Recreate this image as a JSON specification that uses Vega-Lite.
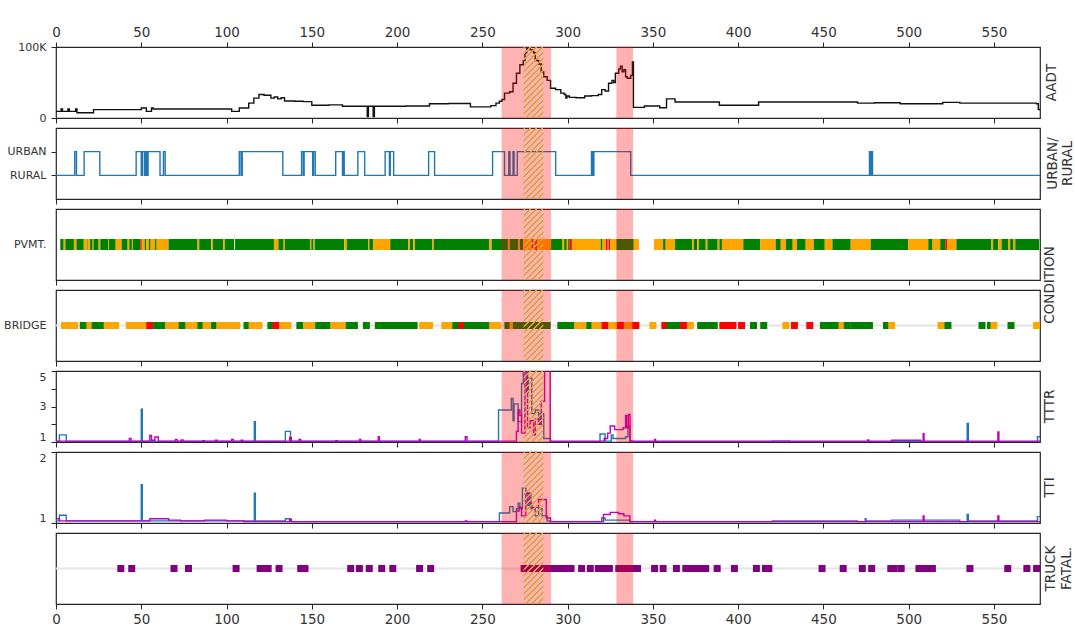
{
"$schema":"https://vega.github.io/schema/vega-lite/v6.json",
"padding":{"left":3,"top":24,"right":0,"bottom":8},
"bounds":"flush",
"spacing":10,
"resolve":{"scale":{"color":"independent"}},
"config":{
"font":"DejaVu Sans",
"view":{"stroke":"#262626","strokeWidth":1.2},
"axis":{"domain":false,"grid":false,"tickColor":"#262626","tickWidth":1,"tickSize":5,"labelColor":"#333333","labelFont":"DejaVu Sans"},
"axisX":{"labelFontSize":13.5,"labelPadding":3,"labelFlush":false},
"axisY":{"labelFontSize":11,"labelPadding":5},
"title":{"font":"DejaVu Sans","fontSize":13.5,"fontWeight":"normal","color":"#333333","orient":"right","angle":270,"baseline":"top","anchor":"middle","offset":-11}
},
"datasets":{
"spans":[{"start":261.3,"end":290.3},{"start":328.6,"end":338.4}],
"hatch":[{"start":274.2,"end":285.8}],
"aadt":[{"x":0,"v":9400},{"x":3,"v":12700},{"x":3.8,"v":9400},{"x":7,"v":12700},{"x":7.8,"v":9400},{"x":11.5,"v":12700},{"x":12.3,"v":7500},{"x":22,"v":11800},{"x":50,"v":14000},{"x":53,"v":9400},{"x":56,"v":14000},{"x":57,"v":12700},{"x":103,"v":9400},{"x":107.5,"v":14000},{"x":113,"v":21000},{"x":116,"v":28000},{"x":119,"v":33000},{"x":122,"v":32000},{"x":126,"v":28000},{"x":128,"v":29500},{"x":130,"v":27000},{"x":132,"v":28500},{"x":134,"v":24000},{"x":140,"v":23600},{"x":145,"v":23000},{"x":150,"v":18000},{"x":160,"v":18500},{"x":168,"v":16500},{"x":182.5,"v":2000},{"x":183.2,"v":16500},{"x":186,"v":2000},{"x":186.7,"v":16500},{"x":205,"v":17000},{"x":219,"v":20000},{"x":230,"v":20500},{"x":243,"v":15600},{"x":255,"v":17500},{"x":258,"v":21000},{"x":260,"v":23600},{"x":261.5,"v":26000},{"x":263,"v":35000},{"x":266,"v":37000},{"x":268,"v":49000},{"x":270,"v":63000},{"x":272,"v":75000},{"x":274,"v":81000},{"x":275,"v":92000},{"x":276,"v":98000},{"x":278,"v":96000},{"x":280,"v":92000},{"x":281,"v":81000},{"x":283,"v":76000},{"x":284.5,"v":65000},{"x":286,"v":58000},{"x":288,"v":53000},{"x":290,"v":42000},{"x":293,"v":40000},{"x":296,"v":35000},{"x":298,"v":33000},{"x":299,"v":28000},{"x":299.6,"v":31000},{"x":301,"v":29000},{"x":305,"v":28500},{"x":310,"v":31000},{"x":314,"v":31500},{"x":318,"v":33000},{"x":320,"v":40000},{"x":322,"v":38000},{"x":324,"v":49000},{"x":326,"v":53000},{"x":327,"v":50000},{"x":328,"v":63000},{"x":330,"v":69000},{"x":331,"v":73000},{"x":332,"v":65000},{"x":333,"v":68000},{"x":334,"v":58000},{"x":335,"v":56000},{"x":337,"v":60000},{"x":338,"v":79000},{"x":338.6,"v":15000},{"x":345,"v":17000},{"x":354,"v":14500},{"x":358,"v":27000},{"x":363,"v":22600},{"x":389,"v":18000},{"x":412,"v":22600},{"x":440,"v":22600},{"x":470,"v":21000},{"x":480,"v":21500},{"x":495,"v":20000},{"x":520,"v":22000},{"x":530,"v":21000},{"x":545,"v":21000},{"x":575,"v":20000},{"x":576,"v":12000},{"x":577,"v":12000}],
"ur":[{"x":0,"v":0},{"x":11,"v":1},{"x":12,"v":0},{"x":16.5,"v":1},{"x":25.7,"v":0},{"x":47,"v":1},{"x":50,"v":0},{"x":50.8,"v":1},{"x":52,"v":0},{"x":52.7,"v":1},{"x":53.5,"v":0},{"x":54,"v":1},{"x":61,"v":0},{"x":63,"v":1},{"x":64,"v":0},{"x":107.5,"v":1},{"x":108.5,"v":0},{"x":109.2,"v":1},{"x":133,"v":0},{"x":144,"v":1},{"x":145,"v":0},{"x":145.5,"v":1},{"x":150.5,"v":0},{"x":151,"v":1},{"x":152,"v":0},{"x":164,"v":1},{"x":168,"v":0},{"x":168.5,"v":1},{"x":169,"v":0},{"x":177,"v":1},{"x":181,"v":0},{"x":193,"v":1},{"x":195.5,"v":0},{"x":196,"v":1},{"x":198,"v":0},{"x":218.5,"v":1},{"x":222,"v":0},{"x":256,"v":1},{"x":263,"v":0},{"x":265.5,"v":1},{"x":266.2,"v":0},{"x":268,"v":1},{"x":268.6,"v":0},{"x":270.5,"v":1},{"x":293,"v":0},{"x":314,"v":1},{"x":314.6,"v":0},{"x":315.4,"v":1},{"x":337,"v":0},{"x":477,"v":1},{"x":477.5,"v":0},{"x":478,"v":1},{"x":478.8,"v":0},{"x":577,"v":0}],
"pvmt":[{"a":2.5,"b":4.5,"c":"G"},{"a":4.5,"b":5.5,"c":"O"},{"a":5.5,"b":10.5,"c":"G"},{"a":10.5,"b":12,"c":"O"},{"a":12,"b":16.3,"c":"G"},{"a":16.3,"b":18.5,"c":"O"},{"a":18.5,"b":19,"c":"G"},{"a":19,"b":20,"c":"O"},{"a":20,"b":21.5,"c":"G"},{"a":21.5,"b":22,"c":"O"},{"a":22,"b":25,"c":"G"},{"a":25,"b":26,"c":"O"},{"a":26,"b":30.5,"c":"G"},{"a":30.5,"b":31,"c":"O"},{"a":31,"b":35,"c":"G"},{"a":35,"b":38.5,"c":"O"},{"a":38.5,"b":42,"c":"G"},{"a":42,"b":43,"c":"O"},{"a":43,"b":44.5,"c":"G"},{"a":44.5,"b":45,"c":"O"},{"a":45,"b":49.5,"c":"G"},{"a":49.5,"b":50.3,"c":"R"},{"a":50.3,"b":52,"c":"O"},{"a":52,"b":53,"c":"G"},{"a":53,"b":54.5,"c":"O"},{"a":54.5,"b":55.5,"c":"G"},{"a":55.5,"b":58,"c":"O"},{"a":58,"b":59,"c":"G"},{"a":59,"b":66,"c":"O"},{"a":66,"b":83,"c":"G"},{"a":83,"b":84,"c":"O"},{"a":84,"b":91,"c":"G"},{"a":91,"b":92,"c":"O"},{"a":92,"b":98,"c":"G"},{"a":98,"b":99,"c":"O"},{"a":99,"b":104.5,"c":"G"},{"a":105,"b":127.8,"c":"G"},{"a":127.8,"b":130.4,"c":"O"},{"a":130.4,"b":133.5,"c":"G"},{"a":133.5,"b":134.2,"c":"O"},{"a":134.2,"b":149,"c":"G"},{"a":149,"b":149.7,"c":"O"},{"a":149.7,"b":151,"c":"G"},{"a":151,"b":151.7,"c":"O"},{"a":151.7,"b":169,"c":"G"},{"a":169,"b":170.5,"c":"O"},{"a":170.5,"b":183,"c":"G"},{"a":183,"b":183.7,"c":"O"},{"a":183.7,"b":186,"c":"G"},{"a":186,"b":196,"c":"O"},{"a":196,"b":206.5,"c":"G"},{"a":206.5,"b":207.5,"c":"O"},{"a":207.5,"b":209.5,"c":"G"},{"a":209.5,"b":210.5,"c":"O"},{"a":210.5,"b":220.5,"c":"G"},{"a":220.5,"b":221.5,"c":"O"},{"a":221.5,"b":254,"c":"G"},{"a":254,"b":255.5,"c":"O"},{"a":255.5,"b":265,"c":"G"},{"a":265,"b":266,"c":"O"},{"a":266,"b":271,"c":"G"},{"a":271,"b":272,"c":"O"},{"a":272,"b":274,"c":"G"},{"a":274,"b":279,"c":"O"},{"a":279,"b":280,"c":"R"},{"a":280,"b":281,"c":"O"},{"a":281,"b":282,"c":"R"},{"a":282,"b":290.3,"c":"O"},{"a":290.3,"b":297,"c":"G"},{"a":297,"b":298,"c":"O"},{"a":298,"b":299.5,"c":"G"},{"a":299.5,"b":300.3,"c":"O"},{"a":300.3,"b":301,"c":"G"},{"a":301,"b":302.5,"c":"R"},{"a":302.5,"b":319.4,"c":"O"},{"a":319.4,"b":320.5,"c":"G"},{"a":320.5,"b":322.5,"c":"O"},{"a":322.5,"b":323.5,"c":"R"},{"a":323.5,"b":324,"c":"O"},{"a":324,"b":325,"c":"R"},{"a":325,"b":328.6,"c":"O"},{"a":328.6,"b":338.8,"c":"G"},{"a":338.8,"b":341.8,"c":"O"},{"a":350.6,"b":356,"c":"O"},{"a":356,"b":357.5,"c":"G"},{"a":357.5,"b":363,"c":"O"},{"a":363,"b":373,"c":"G"},{"a":373,"b":374,"c":"O"},{"a":374,"b":376,"c":"G"},{"a":376,"b":377,"c":"O"},{"a":377,"b":381,"c":"G"},{"a":381,"b":382,"c":"O"},{"a":382,"b":388,"c":"G"},{"a":388,"b":389,"c":"O"},{"a":389,"b":390.5,"c":"G"},{"a":390.5,"b":403,"c":"O"},{"a":403,"b":413,"c":"G"},{"a":413,"b":422,"c":"O"},{"a":422,"b":425,"c":"G"},{"a":425,"b":428,"c":"O"},{"a":428,"b":432,"c":"G"},{"a":432,"b":434.5,"c":"O"},{"a":434.5,"b":439.6,"c":"G"},{"a":439.6,"b":444.3,"c":"O"},{"a":444.3,"b":450.8,"c":"G"},{"a":450.8,"b":455.3,"c":"O"},{"a":455.3,"b":466,"c":"G"},{"a":466,"b":477.7,"c":"O"},{"a":477.7,"b":499.7,"c":"G"},{"a":499.7,"b":511.5,"c":"O"},{"a":511.5,"b":514,"c":"G"},{"a":514,"b":518.5,"c":"O"},{"a":518.5,"b":521.5,"c":"G"},{"a":521.5,"b":522.5,"c":"R"},{"a":522.5,"b":528,"c":"O"},{"a":528,"b":548.5,"c":"G"},{"a":548.5,"b":549.5,"c":"O"},{"a":549.5,"b":552.5,"c":"G"},{"a":552.5,"b":554.5,"c":"O"},{"a":554.5,"b":558.5,"c":"G"},{"a":558.5,"b":559.5,"c":"O"},{"a":559.5,"b":561.5,"c":"G"},{"a":561.5,"b":562.5,"c":"O"},{"a":562.5,"b":576.5,"c":"G"}],
"bridge":[{"x":5,"c":"O"},{"x":8,"c":"O"},{"x":11,"c":"O"},{"x":16,"c":"G"},{"x":20,"c":"O"},{"x":23,"c":"G"},{"x":26,"c":"G"},{"x":28,"c":"G"},{"x":30,"c":"O"},{"x":33,"c":"O"},{"x":35,"c":"O"},{"x":43,"c":"O"},{"x":46,"c":"O"},{"x":49,"c":"O"},{"x":52,"c":"O"},{"x":55,"c":"R"},{"x":59,"c":"G"},{"x":62,"c":"G"},{"x":66,"c":"O"},{"x":68,"c":"O"},{"x":71,"c":"O"},{"x":74,"c":"G"},{"x":78,"c":"O"},{"x":82,"c":"O"},{"x":85,"c":"G"},{"x":88,"c":"O"},{"x":90,"c":"O"},{"x":93,"c":"G"},{"x":96,"c":"O"},{"x":97,"c":"O"},{"x":100,"c":"O"},{"x":103,"c":"O"},{"x":106,"c":"O"},{"x":112,"c":"G"},{"x":115,"c":"O"},{"x":119,"c":"O"},{"x":126,"c":"G"},{"x":129,"c":"R"},{"x":133,"c":"O"},{"x":136,"c":"O"},{"x":143,"c":"G"},{"x":147,"c":"O"},{"x":150,"c":"O"},{"x":154,"c":"G"},{"x":156,"c":"G"},{"x":159,"c":"G"},{"x":163,"c":"O"},{"x":166,"c":"O"},{"x":168,"c":"O"},{"x":172,"c":"G"},{"x":175,"c":"G"},{"x":182,"c":"G"},{"x":189,"c":"G"},{"x":192,"c":"G"},{"x":195,"c":"G"},{"x":198,"c":"G"},{"x":201,"c":"G"},{"x":204,"c":"G"},{"x":207,"c":"G"},{"x":210,"c":"G"},{"x":215,"c":"O"},{"x":219,"c":"O"},{"x":228,"c":"O"},{"x":231,"c":"O"},{"x":233,"c":"O"},{"x":234.5,"c":"G"},{"x":238,"c":"R"},{"x":241,"c":"G"},{"x":244,"c":"G"},{"x":247,"c":"G"},{"x":250,"c":"G"},{"x":253,"c":"G"},{"x":256,"c":"O"},{"x":259,"c":"O"},{"x":265,"c":"G"},{"x":268,"c":"O"},{"x":270,"c":"G"},{"x":273,"c":"G"},{"x":276,"c":"G"},{"x":279,"c":"G"},{"x":282,"c":"G"},{"x":285,"c":"G"},{"x":288,"c":"G"},{"x":296,"c":"G"},{"x":299,"c":"G"},{"x":302,"c":"G"},{"x":306,"c":"O"},{"x":309,"c":"O"},{"x":313,"c":"G"},{"x":316,"c":"O"},{"x":319,"c":"O"},{"x":322,"c":"R"},{"x":326,"c":"O"},{"x":329,"c":"O"},{"x":331,"c":"R"},{"x":335,"c":"O"},{"x":337,"c":"O"},{"x":340,"c":"R"},{"x":350,"c":"O"},{"x":357,"c":"R"},{"x":360,"c":"G"},{"x":363,"c":"G"},{"x":366,"c":"G"},{"x":368,"c":"R"},{"x":371,"c":"R"},{"x":372,"c":"O"},{"x":378,"c":"G"},{"x":381,"c":"G"},{"x":385,"c":"G"},{"x":386,"c":"G"},{"x":391,"c":"R"},{"x":394,"c":"R"},{"x":397,"c":"R"},{"x":402,"c":"R"},{"x":409,"c":"G"},{"x":415,"c":"G"},{"x":428,"c":"O"},{"x":433,"c":"R"},{"x":442,"c":"R"},{"x":450,"c":"G"},{"x":453,"c":"G"},{"x":457,"c":"G"},{"x":461,"c":"O"},{"x":464,"c":"G"},{"x":468,"c":"G"},{"x":471,"c":"G"},{"x":474,"c":"G"},{"x":477,"c":"G"},{"x":487,"c":"G"},{"x":490,"c":"O"},{"x":519,"c":"O"},{"x":523,"c":"G"},{"x":543,"c":"G"},{"x":548,"c":"G"},{"x":550,"c":"O"},{"x":560,"c":"G"},{"x":575,"c":"O"}],
"truck":[{"x":38},{"x":44.4},{"x":69.2},{"x":77.7},{"x":105.6},{"x":119.7},{"x":121.1},{"x":124.4},{"x":130.8},{"x":143.5},{"x":146},{"x":172.8},{"x":177.9},{"x":183.7},{"x":191},{"x":197.5},{"x":213.2},{"x":219.7},{"x":274.5},{"x":276},{"x":277.5},{"x":279},{"x":280.5},{"x":282},{"x":283.5},{"x":285},{"x":286.5},{"x":288},{"x":289.5},{"x":291},{"x":293},{"x":295},{"x":297},{"x":300},{"x":302},{"x":308.2},{"x":313.3},{"x":318},{"x":320},{"x":322},{"x":324.5},{"x":330},{"x":332},{"x":334},{"x":338},{"x":341},{"x":351},{"x":356},{"x":363.8},{"x":369.3},{"x":373},{"x":375},{"x":377},{"x":379},{"x":381},{"x":387.7},{"x":397.8},{"x":410.7},{"x":416},{"x":418},{"x":449.2},{"x":461.6},{"x":472.8},{"x":478.3},{"x":489.5},{"x":491.5},{"x":495.6},{"x":506},{"x":508},{"x":510},{"x":513.9},{"x":535.9},{"x":558.1},{"x":569.3},{"x":575}],
"tttr":[{"x":0,"v":1.03,"s":"b"},{"x":2,"v":1.4,"s":"b"},{"x":6,"v":1.03,"s":"b"},{"x":50,"v":2.85,"s":"b"},{"x":50.6,"v":1.03,"s":"b"},{"x":116.3,"v":2.15,"s":"b"},{"x":116.9,"v":1.03,"s":"b"},{"x":134.5,"v":1.6,"s":"b"},{"x":137.5,"v":1.03,"s":"b"},{"x":259.5,"v":2.8,"s":"b"},{"x":267,"v":3.45,"s":"b"},{"x":268,"v":2.2,"s":"b"},{"x":268.6,"v":3.15,"s":"b"},{"x":271,"v":2.15,"s":"b"},{"x":273,"v":4.3,"s":"b"},{"x":274,"v":5.5,"s":"b"},{"x":276,"v":3.8,"s":"b"},{"x":277,"v":4.6,"s":"b"},{"x":279,"v":2.6,"s":"b"},{"x":281,"v":2.8,"s":"b"},{"x":283,"v":2.0,"s":"b"},{"x":284,"v":2.6,"s":"b"},{"x":286,"v":1.2,"s":"b"},{"x":290,"v":1.02,"s":"b"},{"x":319,"v":1.45,"s":"b"},{"x":322,"v":1.05,"s":"b"},{"x":325.6,"v":1.4,"s":"b"},{"x":326.6,"v":1.2,"s":"b"},{"x":334,"v":1.3,"s":"b"},{"x":335.4,"v":1.9,"s":"b"},{"x":336.5,"v":1.05,"s":"b"},{"x":338,"v":1.02,"s":"b"},{"x":420,"v":1.05,"s":"b"},{"x":430,"v":1.02,"s":"b"},{"x":534.3,"v":2.05,"s":"b"},{"x":535,"v":1.02,"s":"b"},{"x":575.5,"v":1.3,"s":"b"},{"x":577,"v":1.3,"s":"b"},
{"x":0,"v":1.05,"s":"m"},{"x":43,"v":1.2,"s":"m"},{"x":44,"v":1.05,"s":"m"},{"x":55,"v":1.37,"s":"m"},{"x":56,"v":1.1,"s":"m"},{"x":58,"v":1.28,"s":"m"},{"x":60,"v":1.05,"s":"m"},{"x":70,"v":1.15,"s":"m"},{"x":71,"v":1.05,"s":"m"},{"x":73.5,"v":1.12,"s":"m"},{"x":74.5,"v":1.05,"s":"m"},{"x":86,"v":1.08,"s":"m"},{"x":87,"v":1.05,"s":"m"},{"x":93.5,"v":1.1,"s":"m"},{"x":94.5,"v":1.05,"s":"m"},{"x":103,"v":1.15,"s":"m"},{"x":104,"v":1.05,"s":"m"},{"x":108.5,"v":1.1,"s":"m"},{"x":109.5,"v":1.05,"s":"m"},{"x":137,"v":1.25,"s":"m"},{"x":138,"v":1.05,"s":"m"},{"x":142.5,"v":1.15,"s":"m"},{"x":143.5,"v":1.05,"s":"m"},{"x":164,"v":1.08,"s":"m"},{"x":165,"v":1.05,"s":"m"},{"x":178,"v":1.15,"s":"m"},{"x":178.7,"v":1.05,"s":"m"},{"x":189,"v":1.3,"s":"m"},{"x":189.6,"v":1.05,"s":"m"},{"x":213,"v":1.15,"s":"m"},{"x":213.6,"v":1.05,"s":"m"},{"x":240,"v":1.3,"s":"m"},{"x":241,"v":1.05,"s":"m"},{"x":270,"v":1.6,"s":"m"},{"x":271,"v":2.8,"s":"m"},{"x":272,"v":2.5,"s":"m"},{"x":273,"v":1.5,"s":"m"},{"x":275,"v":5.5,"s":"m"},{"x":276.5,"v":1.8,"s":"m"},{"x":278,"v":2.2,"s":"m"},{"x":280,"v":1.4,"s":"m"},{"x":281,"v":2.3,"s":"m"},{"x":283,"v":2.0,"s":"m"},{"x":284.5,"v":3.3,"s":"m"},{"x":286.5,"v":5.5,"s":"m"},{"x":289.8,"v":1.05,"s":"m"},{"x":321.5,"v":1.2,"s":"m"},{"x":323.5,"v":1.5,"s":"m"},{"x":325,"v":1.9,"s":"m"},{"x":327.6,"v":1.7,"s":"m"},{"x":332.5,"v":1.8,"s":"m"},{"x":334,"v":2.5,"s":"m"},{"x":334.6,"v":1.8,"s":"m"},{"x":335.6,"v":2.55,"s":"m"},{"x":336.6,"v":1.05,"s":"m"},{"x":351,"v":1.15,"s":"m"},{"x":351.6,"v":1.05,"s":"m"},{"x":476,"v":1.12,"s":"m"},{"x":476.6,"v":1.05,"s":"m"},{"x":490,"v":1.1,"s":"m"},{"x":507,"v":1.05,"s":"m"},{"x":508.5,"v":1.47,"s":"m"},{"x":509,"v":1.05,"s":"m"},{"x":552.3,"v":1.56,"s":"m"},{"x":552.9,"v":1.05,"s":"m"},{"x":577,"v":1.05,"s":"m"}],
"tti":[{"x":0,"v":1.03,"s":"b"},{"x":2,"v":1.11,"s":"b"},{"x":6,"v":1.03,"s":"b"},{"x":50,"v":1.54,"s":"b"},{"x":50.6,"v":1.03,"s":"b"},{"x":116.3,"v":1.42,"s":"b"},{"x":116.9,"v":1.03,"s":"b"},{"x":134.5,"v":1.06,"s":"b"},{"x":137.5,"v":1.02,"s":"b"},{"x":260,"v":1.14,"s":"b"},{"x":266,"v":1.23,"s":"b"},{"x":268,"v":1.16,"s":"b"},{"x":270,"v":1.2,"s":"b"},{"x":271,"v":1.28,"s":"b"},{"x":272,"v":1.2,"s":"b"},{"x":273.5,"v":1.49,"s":"b"},{"x":275.5,"v":1.42,"s":"b"},{"x":276.5,"v":1.25,"s":"b"},{"x":277.5,"v":1.42,"s":"b"},{"x":278.5,"v":1.2,"s":"b"},{"x":281,"v":1.1,"s":"b"},{"x":283,"v":1.2,"s":"b"},{"x":285,"v":1.1,"s":"b"},{"x":288,"v":1.03,"s":"b"},{"x":290,"v":1.02,"s":"b"},{"x":320,"v":1.07,"s":"b"},{"x":322,"v":1.04,"s":"b"},{"x":336.5,"v":1.02,"s":"b"},{"x":420,"v":1.03,"s":"b"},{"x":470,"v":1.02,"s":"b"},{"x":474.5,"v":1.06,"s":"b"},{"x":475,"v":1.03,"s":"b"},{"x":490,"v":1.04,"s":"b"},{"x":530,"v":1.02,"s":"b"},{"x":534.3,"v":1.12,"s":"b"},{"x":535,"v":1.03,"s":"b"},{"x":575.5,"v":1.09,"s":"b"},{"x":577,"v":1.09,"s":"b"},
{"x":0,"v":1.06,"s":"m"},{"x":2,"v":1.03,"s":"m"},{"x":55,"v":1.06,"s":"m"},{"x":66,"v":1.04,"s":"m"},{"x":73,"v":1.03,"s":"m"},{"x":87,"v":1.04,"s":"m"},{"x":100,"v":1.03,"s":"m"},{"x":110,"v":1.02,"s":"m"},{"x":137,"v":1.05,"s":"m"},{"x":138,"v":1.02,"s":"m"},{"x":240,"v":1.03,"s":"m"},{"x":241,"v":1.02,"s":"m"},{"x":270,"v":1.17,"s":"m"},{"x":271.5,"v":1.22,"s":"m"},{"x":273,"v":1.1,"s":"m"},{"x":275.5,"v":1.42,"s":"m"},{"x":277.5,"v":1.28,"s":"m"},{"x":279,"v":1.22,"s":"m"},{"x":283,"v":1.33,"s":"m"},{"x":287.5,"v":1.07,"s":"m"},{"x":290,"v":1.02,"s":"m"},{"x":321,"v":1.12,"s":"m"},{"x":325,"v":1.15,"s":"m"},{"x":330,"v":1.13,"s":"m"},{"x":333,"v":1.1,"s":"m"},{"x":336.5,"v":1.02,"s":"m"},{"x":351,"v":1.04,"s":"m"},{"x":351.6,"v":1.02,"s":"m"},{"x":508.5,"v":1.1,"s":"m"},{"x":509,"v":1.02,"s":"m"},{"x":552.3,"v":1.1,"s":"m"},{"x":552.9,"v":1.02,"s":"m"},{"x":577,"v":1.02,"s":"m"}]
},
"vconcat":[
{"width":984,"height":71,
"title":{"text":"AADT"},
"resolve":{"axis":{"x":"independent"}},
"layer":[
{"data":{"name":"aadt"},"mark":{"type":"line","interpolate":"step-after","color":"#111111","strokeWidth":1.4},
"encoding":{"x":{"field":"x","type":"quantitative","scale":{"domain":[0,577],"nice":false,"zero":false},"axis":{"orient":"top","values":[0,50,100,150,200,250,300,350,400,450,500,550],"title":null}},
"y":{"field":"v","type":"quantitative","scale":{"domain":[0,100000],"nice":false},"axis":{"values":[0,100000],"labelExpr":"datum.value==0?'0':'100K'","title":null}}}},
{"data":{"name":"spans"},"mark":{"type":"rect","color":"#ff0000","opacity":0.3},
"encoding":{"x":{"field":"start","type":"quantitative","scale":{"domain":[0,577],"nice":false,"zero":false},"axis":{"orient":"bottom","values":[0,50,100,150,200,250,300,350,400,450,500,550],"labels":false,"title":null}},"x2":{"field":"end"}}},
{"data":{"name":"hatch"},"mark":{"type":"rect","strokeWidth":0,"fill":{"gradient":"linear","x1":0,"y1":0,"x2":1,"y2":3.586,"stops":[{"offset":0,"color":"#d4a537"},{"offset":0.0055,"color":"#d4a537"},{"offset":0.0055,"color":"rgba(212,165,55,0)"},{"offset":0.0219,"color":"rgba(212,165,55,0)"},{"offset":0.0219,"color":"#d4a537"},{"offset":0.0274,"color":"#d4a537"},{"offset":0.0274,"color":"rgba(212,165,55,0)"},{"offset":0.0438,"color":"rgba(212,165,55,0)"},{"offset":0.0438,"color":"#d4a537"},{"offset":0.0493,"color":"#d4a537"},{"offset":0.0493,"color":"rgba(212,165,55,0)"},{"offset":0.0657,"color":"rgba(212,165,55,0)"},{"offset":0.0657,"color":"#d4a537"},{"offset":0.0712,"color":"#d4a537"},{"offset":0.0712,"color":"rgba(212,165,55,0)"},{"offset":0.0876,"color":"rgba(212,165,55,0)"},{"offset":0.0876,"color":"#d4a537"},{"offset":0.0931,"color":"#d4a537"},{"offset":0.0931,"color":"rgba(212,165,55,0)"},{"offset":0.1095,"color":"rgba(212,165,55,0)"},{"offset":0.1095,"color":"#d4a537"},{"offset":0.115,"color":"#d4a537"},{"offset":0.115,"color":"rgba(212,165,55,0)"},{"offset":0.1314,"color":"rgba(212,165,55,0)"},{"offset":0.1314,"color":"#d4a537"},{"offset":0.1369,"color":"#d4a537"},{"offset":0.1369,"color":"rgba(212,165,55,0)"},{"offset":0.1533,"color":"rgba(212,165,55,0)"},{"offset":0.1533,"color":"#d4a537"},{"offset":0.1588,"color":"#d4a537"},{"offset":0.1588,"color":"rgba(212,165,55,0)"},{"offset":0.1752,"color":"rgba(212,165,55,0)"},{"offset":0.1752,"color":"#d4a537"},{"offset":0.1807,"color":"#d4a537"},{"offset":0.1807,"color":"rgba(212,165,55,0)"},{"offset":0.1971,"color":"rgba(212,165,55,0)"},{"offset":0.1971,"color":"#d4a537"},{"offset":0.2026,"color":"#d4a537"},{"offset":0.2026,"color":"rgba(212,165,55,0)"},{"offset":0.219,"color":"rgba(212,165,55,0)"},{"offset":0.219,"color":"#d4a537"},{"offset":0.2245,"color":"#d4a537"},{"offset":0.2245,"color":"rgba(212,165,55,0)"},{"offset":0.2409,"color":"rgba(212,165,55,0)"},{"offset":0.2409,"color":"#d4a537"},{"offset":0.2464,"color":"#d4a537"},{"offset":0.2464,"color":"rgba(212,165,55,0)"},{"offset":0.2628,"color":"rgba(212,165,55,0)"},{"offset":0.2628,"color":"#d4a537"},{"offset":0.2683,"color":"#d4a537"},{"offset":0.2683,"color":"rgba(212,165,55,0)"},{"offset":0.2847,"color":"rgba(212,165,55,0)"},{"offset":0.2847,"color":"#d4a537"},{"offset":0.2902,"color":"#d4a537"},{"offset":0.2902,"color":"rgba(212,165,55,0)"},{"offset":0.3066,"color":"rgba(212,165,55,0)"},{"offset":0.3066,"color":"#d4a537"},{"offset":0.3121,"color":"#d4a537"},{"offset":0.3121,"color":"rgba(212,165,55,0)"},{"offset":0.3285,"color":"rgba(212,165,55,0)"},{"offset":0.3285,"color":"#d4a537"},{"offset":0.334,"color":"#d4a537"},{"offset":0.334,"color":"rgba(212,165,55,0)"},{"offset":1,"color":"rgba(212,165,55,0)"}]}},
"encoding":{"x":{"field":"start","type":"quantitative","scale":{"domain":[0,577],"nice":false,"zero":false},"axis":null},"x2":{"field":"end"}}}
]},
{"width":984,"height":71,
"title":{"text":["URBAN/","RURAL"],"offset":-26},
"layer":[
{"data":{"name":"ur"},"mark":{"type":"line","interpolate":"step-after","color":"#1f77b4","strokeWidth":1.4},
"encoding":{"x":{"field":"x","type":"quantitative","scale":{"domain":[0,577],"nice":false,"zero":false},"axis":{"orient":"bottom","values":[0,50,100,150,200,250,300,350,400,450,500,550],"labels":false,"title":null}},
"y":{"field":"v","type":"quantitative","scale":{"domain":[-1,2],"nice":false,"zero":false},"axis":{"values":[0,1],"labelExpr":"datum.value==1?'URBAN':'RURAL'","title":null}}}},
{"data":{"name":"spans"},"mark":{"type":"rect","color":"#ff0000","opacity":0.3},
"encoding":{"x":{"field":"start","type":"quantitative","scale":{"domain":[0,577],"nice":false,"zero":false},"axis":{"orient":"bottom","values":[0,50,100,150,200,250,300,350,400,450,500,550],"labels":false,"title":null}},"x2":{"field":"end"}}},
{"data":{"name":"hatch"},"mark":{"type":"rect","strokeWidth":0,"fill":{"gradient":"linear","x1":0,"y1":0,"x2":1,"y2":3.586,"stops":[{"offset":0,"color":"#d4a537"},{"offset":0.0055,"color":"#d4a537"},{"offset":0.0055,"color":"rgba(212,165,55,0)"},{"offset":0.0219,"color":"rgba(212,165,55,0)"},{"offset":0.0219,"color":"#d4a537"},{"offset":0.0274,"color":"#d4a537"},{"offset":0.0274,"color":"rgba(212,165,55,0)"},{"offset":0.0438,"color":"rgba(212,165,55,0)"},{"offset":0.0438,"color":"#d4a537"},{"offset":0.0493,"color":"#d4a537"},{"offset":0.0493,"color":"rgba(212,165,55,0)"},{"offset":0.0657,"color":"rgba(212,165,55,0)"},{"offset":0.0657,"color":"#d4a537"},{"offset":0.0712,"color":"#d4a537"},{"offset":0.0712,"color":"rgba(212,165,55,0)"},{"offset":0.0876,"color":"rgba(212,165,55,0)"},{"offset":0.0876,"color":"#d4a537"},{"offset":0.0931,"color":"#d4a537"},{"offset":0.0931,"color":"rgba(212,165,55,0)"},{"offset":0.1095,"color":"rgba(212,165,55,0)"},{"offset":0.1095,"color":"#d4a537"},{"offset":0.115,"color":"#d4a537"},{"offset":0.115,"color":"rgba(212,165,55,0)"},{"offset":0.1314,"color":"rgba(212,165,55,0)"},{"offset":0.1314,"color":"#d4a537"},{"offset":0.1369,"color":"#d4a537"},{"offset":0.1369,"color":"rgba(212,165,55,0)"},{"offset":0.1533,"color":"rgba(212,165,55,0)"},{"offset":0.1533,"color":"#d4a537"},{"offset":0.1588,"color":"#d4a537"},{"offset":0.1588,"color":"rgba(212,165,55,0)"},{"offset":0.1752,"color":"rgba(212,165,55,0)"},{"offset":0.1752,"color":"#d4a537"},{"offset":0.1807,"color":"#d4a537"},{"offset":0.1807,"color":"rgba(212,165,55,0)"},{"offset":0.1971,"color":"rgba(212,165,55,0)"},{"offset":0.1971,"color":"#d4a537"},{"offset":0.2026,"color":"#d4a537"},{"offset":0.2026,"color":"rgba(212,165,55,0)"},{"offset":0.219,"color":"rgba(212,165,55,0)"},{"offset":0.219,"color":"#d4a537"},{"offset":0.2245,"color":"#d4a537"},{"offset":0.2245,"color":"rgba(212,165,55,0)"},{"offset":0.2409,"color":"rgba(212,165,55,0)"},{"offset":0.2409,"color":"#d4a537"},{"offset":0.2464,"color":"#d4a537"},{"offset":0.2464,"color":"rgba(212,165,55,0)"},{"offset":0.2628,"color":"rgba(212,165,55,0)"},{"offset":0.2628,"color":"#d4a537"},{"offset":0.2683,"color":"#d4a537"},{"offset":0.2683,"color":"rgba(212,165,55,0)"},{"offset":0.2847,"color":"rgba(212,165,55,0)"},{"offset":0.2847,"color":"#d4a537"},{"offset":0.2902,"color":"#d4a537"},{"offset":0.2902,"color":"rgba(212,165,55,0)"},{"offset":0.3066,"color":"rgba(212,165,55,0)"},{"offset":0.3066,"color":"#d4a537"},{"offset":0.3121,"color":"#d4a537"},{"offset":0.3121,"color":"rgba(212,165,55,0)"},{"offset":0.3285,"color":"rgba(212,165,55,0)"},{"offset":0.3285,"color":"#d4a537"},{"offset":0.334,"color":"#d4a537"},{"offset":0.334,"color":"rgba(212,165,55,0)"},{"offset":1,"color":"rgba(212,165,55,0)"}]}},
"encoding":{"x":{"field":"start","type":"quantitative","scale":{"domain":[0,577],"nice":false,"zero":false},"axis":{"orient":"bottom","values":[0,50,100,150,200,250,300,350,400,450,500,550],"labels":false,"title":null}},"x2":{"field":"end"}}}
]},
{"width":984,"height":71,
"title":{"text":"CONDITION","dx":-40.5},
"layer":[
{"data":{"name":"pvmt"},"mark":{"type":"bar","size":11},
"encoding":{"x":{"field":"a","type":"quantitative","scale":{"domain":[0,577],"nice":false,"zero":false},"axis":{"orient":"bottom","values":[0,50,100,150,200,250,300,350,400,450,500,550],"labels":false,"title":null}},"x2":{"field":"b"},
"y":{"datum":"PVMT.","type":"nominal","axis":{"title":null,"tickOpacity":0}},
"color":{"field":"c","type":"nominal","scale":{"domain":["G","O","R"],"range":["#008000","#ffa500","#ff0000"]},"legend":null}}},
{"data":{"name":"spans"},"mark":{"type":"rect","color":"#ff0000","opacity":0.3},
"encoding":{"x":{"field":"start","type":"quantitative","scale":{"domain":[0,577],"nice":false,"zero":false},"axis":{"orient":"bottom","values":[0,50,100,150,200,250,300,350,400,450,500,550],"labels":false,"title":null}},"x2":{"field":"end"}}},
{"data":{"name":"hatch"},"mark":{"type":"rect","strokeWidth":0,"fill":{"gradient":"linear","x1":0,"y1":0,"x2":1,"y2":3.586,"stops":[{"offset":0,"color":"#d4a537"},{"offset":0.0055,"color":"#d4a537"},{"offset":0.0055,"color":"rgba(212,165,55,0)"},{"offset":0.0219,"color":"rgba(212,165,55,0)"},{"offset":0.0219,"color":"#d4a537"},{"offset":0.0274,"color":"#d4a537"},{"offset":0.0274,"color":"rgba(212,165,55,0)"},{"offset":0.0438,"color":"rgba(212,165,55,0)"},{"offset":0.0438,"color":"#d4a537"},{"offset":0.0493,"color":"#d4a537"},{"offset":0.0493,"color":"rgba(212,165,55,0)"},{"offset":0.0657,"color":"rgba(212,165,55,0)"},{"offset":0.0657,"color":"#d4a537"},{"offset":0.0712,"color":"#d4a537"},{"offset":0.0712,"color":"rgba(212,165,55,0)"},{"offset":0.0876,"color":"rgba(212,165,55,0)"},{"offset":0.0876,"color":"#d4a537"},{"offset":0.0931,"color":"#d4a537"},{"offset":0.0931,"color":"rgba(212,165,55,0)"},{"offset":0.1095,"color":"rgba(212,165,55,0)"},{"offset":0.1095,"color":"#d4a537"},{"offset":0.115,"color":"#d4a537"},{"offset":0.115,"color":"rgba(212,165,55,0)"},{"offset":0.1314,"color":"rgba(212,165,55,0)"},{"offset":0.1314,"color":"#d4a537"},{"offset":0.1369,"color":"#d4a537"},{"offset":0.1369,"color":"rgba(212,165,55,0)"},{"offset":0.1533,"color":"rgba(212,165,55,0)"},{"offset":0.1533,"color":"#d4a537"},{"offset":0.1588,"color":"#d4a537"},{"offset":0.1588,"color":"rgba(212,165,55,0)"},{"offset":0.1752,"color":"rgba(212,165,55,0)"},{"offset":0.1752,"color":"#d4a537"},{"offset":0.1807,"color":"#d4a537"},{"offset":0.1807,"color":"rgba(212,165,55,0)"},{"offset":0.1971,"color":"rgba(212,165,55,0)"},{"offset":0.1971,"color":"#d4a537"},{"offset":0.2026,"color":"#d4a537"},{"offset":0.2026,"color":"rgba(212,165,55,0)"},{"offset":0.219,"color":"rgba(212,165,55,0)"},{"offset":0.219,"color":"#d4a537"},{"offset":0.2245,"color":"#d4a537"},{"offset":0.2245,"color":"rgba(212,165,55,0)"},{"offset":0.2409,"color":"rgba(212,165,55,0)"},{"offset":0.2409,"color":"#d4a537"},{"offset":0.2464,"color":"#d4a537"},{"offset":0.2464,"color":"rgba(212,165,55,0)"},{"offset":0.2628,"color":"rgba(212,165,55,0)"},{"offset":0.2628,"color":"#d4a537"},{"offset":0.2683,"color":"#d4a537"},{"offset":0.2683,"color":"rgba(212,165,55,0)"},{"offset":0.2847,"color":"rgba(212,165,55,0)"},{"offset":0.2847,"color":"#d4a537"},{"offset":0.2902,"color":"#d4a537"},{"offset":0.2902,"color":"rgba(212,165,55,0)"},{"offset":0.3066,"color":"rgba(212,165,55,0)"},{"offset":0.3066,"color":"#d4a537"},{"offset":0.3121,"color":"#d4a537"},{"offset":0.3121,"color":"rgba(212,165,55,0)"},{"offset":0.3285,"color":"rgba(212,165,55,0)"},{"offset":0.3285,"color":"#d4a537"},{"offset":0.334,"color":"#d4a537"},{"offset":0.334,"color":"rgba(212,165,55,0)"},{"offset":1,"color":"rgba(212,165,55,0)"}]}},
"encoding":{"x":{"field":"start","type":"quantitative","scale":{"domain":[0,577],"nice":false,"zero":false},"axis":{"orient":"bottom","values":[0,50,100,150,200,250,300,350,400,450,500,550],"labels":false,"title":null}},"x2":{"field":"end"}}}
]},
{"width":984,"height":71,
"layer":[
{"data":{"values":[{}]},"mark":{"type":"rule","color":"#e4e4e4","strokeWidth":2},
"encoding":{"y":{"datum":"BRIDGE","type":"nominal","axis":{"title":null,"tickOpacity":0}}}},
{"data":{"name":"bridge"},"mark":{"type":"square","size":49,"opacity":1},
"encoding":{"x":{"field":"x","type":"quantitative","scale":{"domain":[0,577],"nice":false,"zero":false},"axis":{"orient":"bottom","values":[0,50,100,150,200,250,300,350,400,450,500,550],"labels":false,"title":null}},
"y":{"datum":"BRIDGE","type":"nominal","axis":{"title":null,"tickOpacity":0}},
"color":{"field":"c","type":"nominal","scale":{"domain":["G","O","R"],"range":["#008000","#ffa500","#ff0000"]},"legend":null}}},
{"data":{"name":"spans"},"mark":{"type":"rect","color":"#ff0000","opacity":0.3},
"encoding":{"x":{"field":"start","type":"quantitative","scale":{"domain":[0,577],"nice":false,"zero":false},"axis":{"orient":"bottom","values":[0,50,100,150,200,250,300,350,400,450,500,550],"labels":false,"title":null}},"x2":{"field":"end"}}},
{"data":{"name":"hatch"},"mark":{"type":"rect","strokeWidth":0,"fill":{"gradient":"linear","x1":0,"y1":0,"x2":1,"y2":3.586,"stops":[{"offset":0,"color":"#d4a537"},{"offset":0.0055,"color":"#d4a537"},{"offset":0.0055,"color":"rgba(212,165,55,0)"},{"offset":0.0219,"color":"rgba(212,165,55,0)"},{"offset":0.0219,"color":"#d4a537"},{"offset":0.0274,"color":"#d4a537"},{"offset":0.0274,"color":"rgba(212,165,55,0)"},{"offset":0.0438,"color":"rgba(212,165,55,0)"},{"offset":0.0438,"color":"#d4a537"},{"offset":0.0493,"color":"#d4a537"},{"offset":0.0493,"color":"rgba(212,165,55,0)"},{"offset":0.0657,"color":"rgba(212,165,55,0)"},{"offset":0.0657,"color":"#d4a537"},{"offset":0.0712,"color":"#d4a537"},{"offset":0.0712,"color":"rgba(212,165,55,0)"},{"offset":0.0876,"color":"rgba(212,165,55,0)"},{"offset":0.0876,"color":"#d4a537"},{"offset":0.0931,"color":"#d4a537"},{"offset":0.0931,"color":"rgba(212,165,55,0)"},{"offset":0.1095,"color":"rgba(212,165,55,0)"},{"offset":0.1095,"color":"#d4a537"},{"offset":0.115,"color":"#d4a537"},{"offset":0.115,"color":"rgba(212,165,55,0)"},{"offset":0.1314,"color":"rgba(212,165,55,0)"},{"offset":0.1314,"color":"#d4a537"},{"offset":0.1369,"color":"#d4a537"},{"offset":0.1369,"color":"rgba(212,165,55,0)"},{"offset":0.1533,"color":"rgba(212,165,55,0)"},{"offset":0.1533,"color":"#d4a537"},{"offset":0.1588,"color":"#d4a537"},{"offset":0.1588,"color":"rgba(212,165,55,0)"},{"offset":0.1752,"color":"rgba(212,165,55,0)"},{"offset":0.1752,"color":"#d4a537"},{"offset":0.1807,"color":"#d4a537"},{"offset":0.1807,"color":"rgba(212,165,55,0)"},{"offset":0.1971,"color":"rgba(212,165,55,0)"},{"offset":0.1971,"color":"#d4a537"},{"offset":0.2026,"color":"#d4a537"},{"offset":0.2026,"color":"rgba(212,165,55,0)"},{"offset":0.219,"color":"rgba(212,165,55,0)"},{"offset":0.219,"color":"#d4a537"},{"offset":0.2245,"color":"#d4a537"},{"offset":0.2245,"color":"rgba(212,165,55,0)"},{"offset":0.2409,"color":"rgba(212,165,55,0)"},{"offset":0.2409,"color":"#d4a537"},{"offset":0.2464,"color":"#d4a537"},{"offset":0.2464,"color":"rgba(212,165,55,0)"},{"offset":0.2628,"color":"rgba(212,165,55,0)"},{"offset":0.2628,"color":"#d4a537"},{"offset":0.2683,"color":"#d4a537"},{"offset":0.2683,"color":"rgba(212,165,55,0)"},{"offset":0.2847,"color":"rgba(212,165,55,0)"},{"offset":0.2847,"color":"#d4a537"},{"offset":0.2902,"color":"#d4a537"},{"offset":0.2902,"color":"rgba(212,165,55,0)"},{"offset":0.3066,"color":"rgba(212,165,55,0)"},{"offset":0.3066,"color":"#d4a537"},{"offset":0.3121,"color":"#d4a537"},{"offset":0.3121,"color":"rgba(212,165,55,0)"},{"offset":0.3285,"color":"rgba(212,165,55,0)"},{"offset":0.3285,"color":"#d4a537"},{"offset":0.334,"color":"#d4a537"},{"offset":0.334,"color":"rgba(212,165,55,0)"},{"offset":1,"color":"rgba(212,165,55,0)"}]}},
"encoding":{"x":{"field":"start","type":"quantitative","scale":{"domain":[0,577],"nice":false,"zero":false},"axis":{"orient":"bottom","values":[0,50,100,150,200,250,300,350,400,450,500,550],"labels":false,"title":null}},"x2":{"field":"end"}}}
]},
{"width":984,"height":71,
"title":{"text":"TTTR"},
"layer":[
{"data":{"name":"tttr"},"mark":{"type":"line","interpolate":"step-after","strokeWidth":1.4,"clip":true},
"encoding":{"x":{"field":"x","type":"quantitative","scale":{"domain":[0,577],"nice":false,"zero":false},"axis":{"orient":"bottom","values":[0,50,100,150,200,250,300,350,400,450,500,550],"labels":false,"title":null}},
"y":{"field":"v","type":"quantitative","scale":{"domain":[1,5],"nice":false,"zero":false},"axis":{"values":[1,2,3,4,5],"labelExpr":"datum.value%2==1?datum.label:''","labelFlush":true,"title":null}},
"color":{"field":"s","type":"nominal","scale":{"domain":["b","m"],"range":["#1f77b4","#bf00bf"]},"legend":null}}},
{"data":{"name":"spans"},"mark":{"type":"rect","color":"#ff0000","opacity":0.3},
"encoding":{"x":{"field":"start","type":"quantitative","scale":{"domain":[0,577],"nice":false,"zero":false},"axis":{"orient":"bottom","values":[0,50,100,150,200,250,300,350,400,450,500,550],"labels":false,"title":null}},"x2":{"field":"end"}}},
{"data":{"name":"hatch"},"mark":{"type":"rect","strokeWidth":0,"fill":{"gradient":"linear","x1":0,"y1":0,"x2":1,"y2":3.586,"stops":[{"offset":0,"color":"#d4a537"},{"offset":0.0055,"color":"#d4a537"},{"offset":0.0055,"color":"rgba(212,165,55,0)"},{"offset":0.0219,"color":"rgba(212,165,55,0)"},{"offset":0.0219,"color":"#d4a537"},{"offset":0.0274,"color":"#d4a537"},{"offset":0.0274,"color":"rgba(212,165,55,0)"},{"offset":0.0438,"color":"rgba(212,165,55,0)"},{"offset":0.0438,"color":"#d4a537"},{"offset":0.0493,"color":"#d4a537"},{"offset":0.0493,"color":"rgba(212,165,55,0)"},{"offset":0.0657,"color":"rgba(212,165,55,0)"},{"offset":0.0657,"color":"#d4a537"},{"offset":0.0712,"color":"#d4a537"},{"offset":0.0712,"color":"rgba(212,165,55,0)"},{"offset":0.0876,"color":"rgba(212,165,55,0)"},{"offset":0.0876,"color":"#d4a537"},{"offset":0.0931,"color":"#d4a537"},{"offset":0.0931,"color":"rgba(212,165,55,0)"},{"offset":0.1095,"color":"rgba(212,165,55,0)"},{"offset":0.1095,"color":"#d4a537"},{"offset":0.115,"color":"#d4a537"},{"offset":0.115,"color":"rgba(212,165,55,0)"},{"offset":0.1314,"color":"rgba(212,165,55,0)"},{"offset":0.1314,"color":"#d4a537"},{"offset":0.1369,"color":"#d4a537"},{"offset":0.1369,"color":"rgba(212,165,55,0)"},{"offset":0.1533,"color":"rgba(212,165,55,0)"},{"offset":0.1533,"color":"#d4a537"},{"offset":0.1588,"color":"#d4a537"},{"offset":0.1588,"color":"rgba(212,165,55,0)"},{"offset":0.1752,"color":"rgba(212,165,55,0)"},{"offset":0.1752,"color":"#d4a537"},{"offset":0.1807,"color":"#d4a537"},{"offset":0.1807,"color":"rgba(212,165,55,0)"},{"offset":0.1971,"color":"rgba(212,165,55,0)"},{"offset":0.1971,"color":"#d4a537"},{"offset":0.2026,"color":"#d4a537"},{"offset":0.2026,"color":"rgba(212,165,55,0)"},{"offset":0.219,"color":"rgba(212,165,55,0)"},{"offset":0.219,"color":"#d4a537"},{"offset":0.2245,"color":"#d4a537"},{"offset":0.2245,"color":"rgba(212,165,55,0)"},{"offset":0.2409,"color":"rgba(212,165,55,0)"},{"offset":0.2409,"color":"#d4a537"},{"offset":0.2464,"color":"#d4a537"},{"offset":0.2464,"color":"rgba(212,165,55,0)"},{"offset":0.2628,"color":"rgba(212,165,55,0)"},{"offset":0.2628,"color":"#d4a537"},{"offset":0.2683,"color":"#d4a537"},{"offset":0.2683,"color":"rgba(212,165,55,0)"},{"offset":0.2847,"color":"rgba(212,165,55,0)"},{"offset":0.2847,"color":"#d4a537"},{"offset":0.2902,"color":"#d4a537"},{"offset":0.2902,"color":"rgba(212,165,55,0)"},{"offset":0.3066,"color":"rgba(212,165,55,0)"},{"offset":0.3066,"color":"#d4a537"},{"offset":0.3121,"color":"#d4a537"},{"offset":0.3121,"color":"rgba(212,165,55,0)"},{"offset":0.3285,"color":"rgba(212,165,55,0)"},{"offset":0.3285,"color":"#d4a537"},{"offset":0.334,"color":"#d4a537"},{"offset":0.334,"color":"rgba(212,165,55,0)"},{"offset":1,"color":"rgba(212,165,55,0)"}]}},
"encoding":{"x":{"field":"start","type":"quantitative","scale":{"domain":[0,577],"nice":false,"zero":false},"axis":{"orient":"bottom","values":[0,50,100,150,200,250,300,350,400,450,500,550],"labels":false,"title":null}},"x2":{"field":"end"}}}
]},
{"width":984,"height":71,
"title":{"text":"TTI"},
"layer":[
{"data":{"name":"tti"},"mark":{"type":"line","interpolate":"step-after","strokeWidth":1.4,"clip":true},
"encoding":{"x":{"field":"x","type":"quantitative","scale":{"domain":[0,577],"nice":false,"zero":false},"axis":{"orient":"bottom","values":[0,50,100,150,200,250,300,350,400,450,500,550],"labels":false,"title":null}},
"y":{"field":"v","type":"quantitative","scale":{"domain":[1,2],"nice":false,"zero":false},"axis":{"values":[1,2],"format":"d","labelFlush":true,"title":null}},
"color":{"field":"s","type":"nominal","scale":{"domain":["b","m"],"range":["#1f77b4","#bf00bf"]},"legend":null}}},
{"data":{"name":"spans"},"mark":{"type":"rect","color":"#ff0000","opacity":0.3},
"encoding":{"x":{"field":"start","type":"quantitative","scale":{"domain":[0,577],"nice":false,"zero":false},"axis":{"orient":"bottom","values":[0,50,100,150,200,250,300,350,400,450,500,550],"labels":false,"title":null}},"x2":{"field":"end"}}},
{"data":{"name":"hatch"},"mark":{"type":"rect","strokeWidth":0,"fill":{"gradient":"linear","x1":0,"y1":0,"x2":1,"y2":3.586,"stops":[{"offset":0,"color":"#d4a537"},{"offset":0.0055,"color":"#d4a537"},{"offset":0.0055,"color":"rgba(212,165,55,0)"},{"offset":0.0219,"color":"rgba(212,165,55,0)"},{"offset":0.0219,"color":"#d4a537"},{"offset":0.0274,"color":"#d4a537"},{"offset":0.0274,"color":"rgba(212,165,55,0)"},{"offset":0.0438,"color":"rgba(212,165,55,0)"},{"offset":0.0438,"color":"#d4a537"},{"offset":0.0493,"color":"#d4a537"},{"offset":0.0493,"color":"rgba(212,165,55,0)"},{"offset":0.0657,"color":"rgba(212,165,55,0)"},{"offset":0.0657,"color":"#d4a537"},{"offset":0.0712,"color":"#d4a537"},{"offset":0.0712,"color":"rgba(212,165,55,0)"},{"offset":0.0876,"color":"rgba(212,165,55,0)"},{"offset":0.0876,"color":"#d4a537"},{"offset":0.0931,"color":"#d4a537"},{"offset":0.0931,"color":"rgba(212,165,55,0)"},{"offset":0.1095,"color":"rgba(212,165,55,0)"},{"offset":0.1095,"color":"#d4a537"},{"offset":0.115,"color":"#d4a537"},{"offset":0.115,"color":"rgba(212,165,55,0)"},{"offset":0.1314,"color":"rgba(212,165,55,0)"},{"offset":0.1314,"color":"#d4a537"},{"offset":0.1369,"color":"#d4a537"},{"offset":0.1369,"color":"rgba(212,165,55,0)"},{"offset":0.1533,"color":"rgba(212,165,55,0)"},{"offset":0.1533,"color":"#d4a537"},{"offset":0.1588,"color":"#d4a537"},{"offset":0.1588,"color":"rgba(212,165,55,0)"},{"offset":0.1752,"color":"rgba(212,165,55,0)"},{"offset":0.1752,"color":"#d4a537"},{"offset":0.1807,"color":"#d4a537"},{"offset":0.1807,"color":"rgba(212,165,55,0)"},{"offset":0.1971,"color":"rgba(212,165,55,0)"},{"offset":0.1971,"color":"#d4a537"},{"offset":0.2026,"color":"#d4a537"},{"offset":0.2026,"color":"rgba(212,165,55,0)"},{"offset":0.219,"color":"rgba(212,165,55,0)"},{"offset":0.219,"color":"#d4a537"},{"offset":0.2245,"color":"#d4a537"},{"offset":0.2245,"color":"rgba(212,165,55,0)"},{"offset":0.2409,"color":"rgba(212,165,55,0)"},{"offset":0.2409,"color":"#d4a537"},{"offset":0.2464,"color":"#d4a537"},{"offset":0.2464,"color":"rgba(212,165,55,0)"},{"offset":0.2628,"color":"rgba(212,165,55,0)"},{"offset":0.2628,"color":"#d4a537"},{"offset":0.2683,"color":"#d4a537"},{"offset":0.2683,"color":"rgba(212,165,55,0)"},{"offset":0.2847,"color":"rgba(212,165,55,0)"},{"offset":0.2847,"color":"#d4a537"},{"offset":0.2902,"color":"#d4a537"},{"offset":0.2902,"color":"rgba(212,165,55,0)"},{"offset":0.3066,"color":"rgba(212,165,55,0)"},{"offset":0.3066,"color":"#d4a537"},{"offset":0.3121,"color":"#d4a537"},{"offset":0.3121,"color":"rgba(212,165,55,0)"},{"offset":0.3285,"color":"rgba(212,165,55,0)"},{"offset":0.3285,"color":"#d4a537"},{"offset":0.334,"color":"#d4a537"},{"offset":0.334,"color":"rgba(212,165,55,0)"},{"offset":1,"color":"rgba(212,165,55,0)"}]}},
"encoding":{"x":{"field":"start","type":"quantitative","scale":{"domain":[0,577],"nice":false,"zero":false},"axis":{"orient":"bottom","values":[0,50,100,150,200,250,300,350,400,450,500,550],"labels":false,"title":null}},"x2":{"field":"end"}}}
]},
{"width":984,"height":71,
"title":{"text":["TRUCK","FATAL."],"offset":-26},
"layer":[
{"data":{"values":[{}]},"mark":{"type":"rule","color":"#e4e4e4","strokeWidth":2},
"encoding":{"y":{"datum":"T","type":"nominal","axis":null}}},
{"data":{"name":"truck"},"mark":{"type":"square","size":49,"opacity":1,"color":"#800080"},
"encoding":{"x":{"field":"x","type":"quantitative","scale":{"domain":[0,577],"nice":false,"zero":false},"axis":{"orient":"bottom","values":[0,50,100,150,200,250,300,350,400,450,500,550],"title":null}},
"y":{"datum":"T","type":"nominal","axis":null}}},
{"data":{"name":"spans"},"mark":{"type":"rect","color":"#ff0000","opacity":0.3},
"encoding":{"x":{"field":"start","type":"quantitative","scale":{"domain":[0,577],"nice":false,"zero":false},"axis":{"orient":"bottom","values":[0,50,100,150,200,250,300,350,400,450,500,550],"title":null}},"x2":{"field":"end"}}},
{"data":{"name":"hatch"},"mark":{"type":"rect","strokeWidth":0,"fill":{"gradient":"linear","x1":0,"y1":0,"x2":1,"y2":3.586,"stops":[{"offset":0,"color":"#d4a537"},{"offset":0.0055,"color":"#d4a537"},{"offset":0.0055,"color":"rgba(212,165,55,0)"},{"offset":0.0219,"color":"rgba(212,165,55,0)"},{"offset":0.0219,"color":"#d4a537"},{"offset":0.0274,"color":"#d4a537"},{"offset":0.0274,"color":"rgba(212,165,55,0)"},{"offset":0.0438,"color":"rgba(212,165,55,0)"},{"offset":0.0438,"color":"#d4a537"},{"offset":0.0493,"color":"#d4a537"},{"offset":0.0493,"color":"rgba(212,165,55,0)"},{"offset":0.0657,"color":"rgba(212,165,55,0)"},{"offset":0.0657,"color":"#d4a537"},{"offset":0.0712,"color":"#d4a537"},{"offset":0.0712,"color":"rgba(212,165,55,0)"},{"offset":0.0876,"color":"rgba(212,165,55,0)"},{"offset":0.0876,"color":"#d4a537"},{"offset":0.0931,"color":"#d4a537"},{"offset":0.0931,"color":"rgba(212,165,55,0)"},{"offset":0.1095,"color":"rgba(212,165,55,0)"},{"offset":0.1095,"color":"#d4a537"},{"offset":0.115,"color":"#d4a537"},{"offset":0.115,"color":"rgba(212,165,55,0)"},{"offset":0.1314,"color":"rgba(212,165,55,0)"},{"offset":0.1314,"color":"#d4a537"},{"offset":0.1369,"color":"#d4a537"},{"offset":0.1369,"color":"rgba(212,165,55,0)"},{"offset":0.1533,"color":"rgba(212,165,55,0)"},{"offset":0.1533,"color":"#d4a537"},{"offset":0.1588,"color":"#d4a537"},{"offset":0.1588,"color":"rgba(212,165,55,0)"},{"offset":0.1752,"color":"rgba(212,165,55,0)"},{"offset":0.1752,"color":"#d4a537"},{"offset":0.1807,"color":"#d4a537"},{"offset":0.1807,"color":"rgba(212,165,55,0)"},{"offset":0.1971,"color":"rgba(212,165,55,0)"},{"offset":0.1971,"color":"#d4a537"},{"offset":0.2026,"color":"#d4a537"},{"offset":0.2026,"color":"rgba(212,165,55,0)"},{"offset":0.219,"color":"rgba(212,165,55,0)"},{"offset":0.219,"color":"#d4a537"},{"offset":0.2245,"color":"#d4a537"},{"offset":0.2245,"color":"rgba(212,165,55,0)"},{"offset":0.2409,"color":"rgba(212,165,55,0)"},{"offset":0.2409,"color":"#d4a537"},{"offset":0.2464,"color":"#d4a537"},{"offset":0.2464,"color":"rgba(212,165,55,0)"},{"offset":0.2628,"color":"rgba(212,165,55,0)"},{"offset":0.2628,"color":"#d4a537"},{"offset":0.2683,"color":"#d4a537"},{"offset":0.2683,"color":"rgba(212,165,55,0)"},{"offset":0.2847,"color":"rgba(212,165,55,0)"},{"offset":0.2847,"color":"#d4a537"},{"offset":0.2902,"color":"#d4a537"},{"offset":0.2902,"color":"rgba(212,165,55,0)"},{"offset":0.3066,"color":"rgba(212,165,55,0)"},{"offset":0.3066,"color":"#d4a537"},{"offset":0.3121,"color":"#d4a537"},{"offset":0.3121,"color":"rgba(212,165,55,0)"},{"offset":0.3285,"color":"rgba(212,165,55,0)"},{"offset":0.3285,"color":"#d4a537"},{"offset":0.334,"color":"#d4a537"},{"offset":0.334,"color":"rgba(212,165,55,0)"},{"offset":1,"color":"rgba(212,165,55,0)"}]}},
"encoding":{"x":{"field":"start","type":"quantitative","scale":{"domain":[0,577],"nice":false,"zero":false},"axis":{"orient":"bottom","values":[0,50,100,150,200,250,300,350,400,450,500,550],"title":null}},"x2":{"field":"end"}}}
]}
]
}
